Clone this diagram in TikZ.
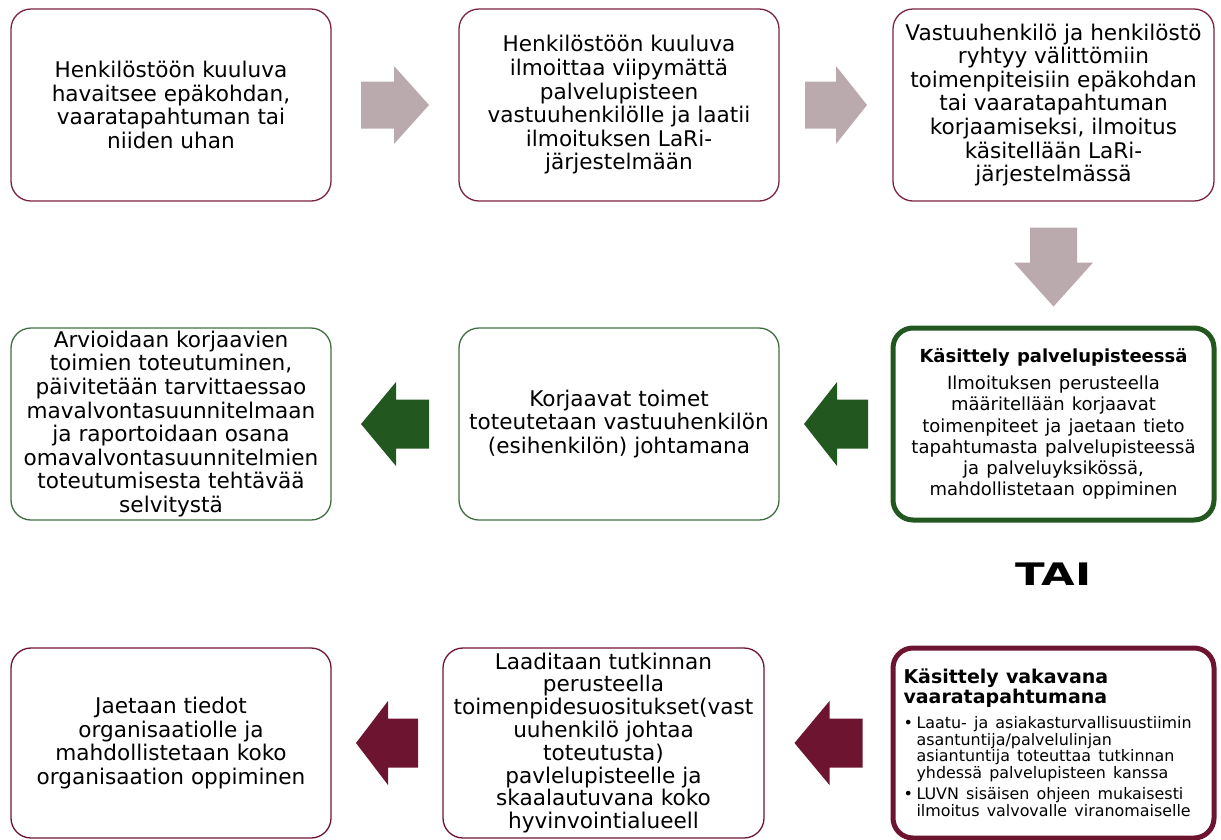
\documentclass[tikz,border=0pt]{standalone}
\usepackage{fontspec}
\setmainfont{DejaVu Sans}
\usetikzlibrary{calc, positioning}
\definecolor{plum}{HTML}{7B2342}
\definecolor{mauve}{HTML}{BAA9AD}
\definecolor{leaf}{HTML}{3F703F}
\definecolor{forest}{HTML}{22581F}
\definecolor{wine}{HTML}{6D1431}
\tikzset{basic/.style={draw, rectangle, rounded corners=20pt, minimum width=320pt, minimum height=192pt, align=center, inner sep=0pt, outer sep=0pt, line width=1.3pt, font=\fontsize{21.6}{23.6}\selectfont}}
\tikzset{topbox/.style={basic, draw=plum}}
\tikzset{midbox/.style={basic, draw=leaf}}
\tikzset{lowbox/.style={basic, draw=wine, minimum height=190pt}}
\tikzset{lightarr/.style={fill=mauve}, greenarr/.style={fill=forest}, winearr/.style={fill=wine}}
\tikzset{pics/blockarrow/.style n args={4}{code={%
    \fill[pic actions] (-#1/2,-#2/2) -- (#1/2-#4,-#2/2) -- (#1/2-#4,-#3/2) -- (#1/2,0)
        -- (#1/2-#4,#3/2) -- (#1/2-#4,#2/2) -- (-#1/2,#2/2) -- cycle;
}}}

\begin{document}
\begin{tikzpicture}[x=1pt, y=-1pt]

    \useasboundingbox (0,0) rectangle (1221,839);

    \node[topbox] (havaitsee) at (171,105) {Henkilöstöön kuuluva\\havaitsee epäkohdan,\\vaaratapahtuman tai\\niiden uhan};
    \node[topbox, right=128pt of havaitsee] (ilmoittaa) {Henkilöstöön kuuluva\\ilmoittaa viipymättä\\palvelupisteen\\vastuuhenkilölle ja laatii\\ilmoituksen LaRi-\\järjestelmään};
    \node[topbox, right=114pt of ilmoittaa, minimum width=321pt] (korjaus) {Vastuuhenkilö ja henkilöstö\\ryhtyy välittömiin\\toimenpiteisiin epäkohdan\\tai vaaratapahtuman\\korjaamiseksi, ilmoitus\\käsitellään LaRi-\\järjestelmässä};

    \node[midbox, draw=forest, line width=5pt, minimum width=321pt, text width=312pt, below=127pt of korjaus] (kasittely) {%
        {\bfseries\fontsize{18}{21}\selectfont Käsittely palvelupisteessä\par}\vspace{6pt}
        {\fontsize{18}{21.2}\selectfont Ilmoituksen perusteella\\määritellään korjaavat\\toimenpiteet ja jaetaan tieto\\tapahtumasta palvelupisteessä\\ja palveluyksikössä,\\mahdollistetaan oppiminen\par}};
    \node[midbox, below=127pt of ilmoittaa] (toimet) {Korjaavat toimet\\toteutetaan vastuuhenkilön\\(esihenkilön) johtamana};
    \node[midbox, below=127pt of havaitsee] (arvio) {Arvioidaan korjaavien\\toimien toteutuminen,\\päivitetään tarvittaessao\\mavalvontasuunnitelmaan\\ja raportoidaan osana\\omavalvontasuunnitelmien\\toteutumisesta tehtävää\\selvitystä};

    \node[lowbox, draw=wine, line width=5pt, minimum width=321pt, text width=300pt, align=left, below=128pt of kasittely] (vakava) {%
        {\bfseries\fontsize{19}{20}\selectfont Käsittely vakavana\\vaaratapahtumana\par}\vspace{8pt}
        {\fontsize{15.9}{16.6}\selectfont
        \makebox[13pt][l]{\textbullet}Laatu- ja asiakasturvallisuustiimin\\
        \hspace*{13pt}asantuntija/palvelulinjan\\
        \hspace*{13pt}asiantuntija toteuttaa tutkinnan\\
        \hspace*{13pt}yhdessä palvelupisteen kanssa\par\vspace{5pt}
        \makebox[13pt][l]{\textbullet}LUVN sisäisen ohjeen mukaisesti\\
        \hspace*{13pt}ilmoitus valvovalle viranomaiselle\par}};
    \node[lowbox, minimum width=321pt, font=\fontsize{21.6}{22.8}\selectfont, left=129pt of vakava] (tutkinta) {Laaditaan tutkinnan\\perusteella\\toimenpidesuositukset(vast\\uuhenkilö johtaa\\toteutusta)\\pavlelupisteelle ja\\skaalautuvana koko\\hyvinvointialueell};
    \node[lowbox, below=128pt of arvio] (jaetaan) {Jaetaan tiedot\\organisaatiolle ja\\mahdollistetaan koko\\organisaation oppiminen};

    \node[font=\bfseries\fontsize{31}{31}\selectfont] (tai) at ($(kasittely.south)!0.42!(vakava.north)$) {\scalebox{1.4}[1]{TAI}};

    \pic[lightarr] at ($(havaitsee.east)!0.5!(ilmoittaa.west)$) {blockarrow={68}{47}{78}{35}};
    \pic[lightarr] at ($(ilmoittaa.east)!0.5!(korjaus.west)$) {blockarrow={62}{47}{78}{31}};
    \pic[lightarr, rotate=-90] at ($(korjaus.south)!0.52!(kasittely.north)$) {blockarrow={79}{47}{79}{44}};
    \pic[greenarr, rotate=180] at ($(kasittely.west)!0.5!(toimet.east)$) {blockarrow={64}{49}{84}{33}};
    \pic[greenarr, rotate=180] at ($(toimet.west)!0.5!(arvio.east)$) {blockarrow={68}{49}{84}{35}};
    \pic[winearr, rotate=180] at ($(vakava.west)!0.5!(tutkinta.east)$) {blockarrow={68}{49}{84}{35}};
    \pic[winearr, rotate=180] at ($(tutkinta.west)!0.5!(jaetaan.east)$) {blockarrow={62}{49}{84}{32}};

\end{tikzpicture}
\end{document}
